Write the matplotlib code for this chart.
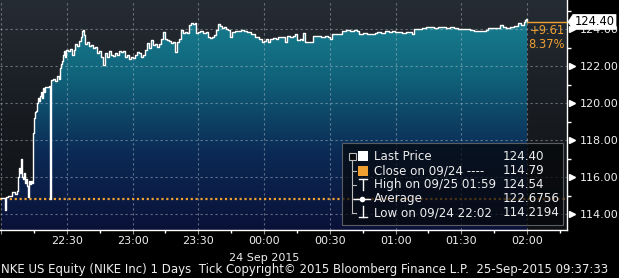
import matplotlib
matplotlib.use("Agg")
import matplotlib.pyplot as plt
import numpy as np
from matplotlib.colors import LinearSegmentedColormap
from matplotlib.patches import Rectangle, Polygon
from matplotlib.lines import Line2D
import matplotlib.transforms as mtransforms

# ---------------- data ----------------
# minutes after 22:00 (24 Sep 2015)
minutes = [0, 0.5, 2.0, 2.3, 3.2, 4.6, 5.0, 6.4, 7.3, 7.8, 8.2, 8.7, 9.1, 9.6, 10.0, 10.5,
           10.9, 11.4, 11.9, 12.3, 12.8, 13.2, 13.7, 14.1, 14.6, 15.1, 15.5, 16.0, 16.4,
           16.9, 17.3, 17.8, 18.2, 18.7, 19.2, 19.6, 20.1, 21.0, 21.9, 22.4, 22.8, 23.7,
           24.6, 25.5, 26.5, 26.9, 27.4, 27.8, 28.3, 28.7, 29.2, 29.7, 30.6, 31.5, 32.4,
           33.3, 33.8, 34.7, 35.6, 36.5, 37.0, 37.4, 37.9, 38.3, 39.2, 40.1, 41.1, 42.0,
           42.9, 43.8, 44.7, 45.6, 46.5, 47.4, 48.4, 49.3, 50.2, 51.1, 52.0, 52.9, 53.8,
           54.7, 55.7, 56.6, 57.5, 58.4, 59.3, 60.2, 61.1, 62.0, 63.0, 63.9, 64.8, 65.7,
           66.6, 67.5, 68.4, 69.3, 70.3, 71.2, 72.1, 73.0, 73.9, 74.8, 75.7, 76.6, 77.6,
           78.5, 79.4, 80.3, 81.2, 82.1, 83.0, 83.9, 84.9, 85.8, 86.7, 87.6, 88.5, 89.0,
           89.9, 90.8, 92.2, 93.5, 94.4, 95.3, 96.3, 97.2, 98.1, 99.0, 99.9, 100.8, 101.7,
           102.6, 103.6, 104.5, 105.4, 106.7, 108.1, 109.5, 110.9, 112.2, 114.1, 115.9,
           117.7, 119.1, 120.0, 120.9, 121.8, 122.7, 124.1, 125.5, 126.4, 127.7, 129.1,
           129.6, 130.5, 131.8, 133.2, 134.1, 135.0, 136.4, 137.3, 137.8, 138.7, 140.1,
           141.4, 142.3, 144.2, 146.0, 147.8, 149.2, 150.1, 151.0, 152.8, 154.7, 155.6,
           157.4, 159.2, 161.0, 162.4, 163.3, 165.1, 167.0, 168.8, 170.6, 171.5, 173.4,
           175.2, 177.0, 178.4, 179.7, 181.1, 182.9, 184.8, 186.6, 187.5, 188.4, 190.2,
           192.1, 193.9, 195.7, 197.5, 199.4, 201.2, 203.0, 204.8, 206.7, 208.5, 210.3,
           212.1, 214.0, 215.8, 217.6, 219.4, 221.3, 222.2, 224.0, 225.8, 227.6, 229.0,
           230.4, 232.2, 234.0, 235.9, 237.2, 238.6, 239.1, 239.5, 240.0]
prices = [114.87, 114.85, 114.22, 114.90, 115.00, 114.95, 115.20, 115.10, 115.25, 116.00,
          116.50, 116.20, 116.97, 116.00, 115.90, 116.20, 115.70, 115.90, 115.50, 114.90,
          115.80, 115.60, 115.80, 115.70, 118.40, 119.20, 119.50, 119.60, 120.00, 120.30,
          120.10, 120.40, 120.60, 120.30, 120.80, 120.60, 120.90, 120.85, 120.95, 114.80,
          121.25, 121.30, 121.20, 121.45, 121.30, 121.90, 122.10, 122.30, 122.60, 122.80,
          122.50, 122.90, 122.85, 122.95, 122.60, 122.90, 123.20, 123.10, 123.35, 123.60,
          123.90, 123.95, 123.70, 123.20, 123.30, 123.10, 123.15, 123.00, 123.05, 122.70,
          122.80, 122.50, 122.06, 122.70, 122.50, 122.80, 122.60, 122.55, 122.70, 122.60,
          122.85, 122.75, 122.85, 122.50, 122.60, 122.40, 122.50, 122.45, 122.60, 122.76,
          122.70, 122.49, 122.60, 122.90, 123.25, 123.00, 123.40, 123.15, 123.20, 123.05,
          123.20, 123.45, 123.84, 123.50, 123.40, 123.35, 123.25, 123.30, 122.76, 123.30,
          123.50, 123.95, 123.80, 123.85, 123.79, 124.22, 124.33, 124.30, 124.35, 123.80,
          123.84, 123.90, 123.80, 123.85, 123.60, 123.55, 123.60, 123.70, 123.95, 124.27,
          124.20, 124.05, 124.10, 124.00, 123.95, 123.57, 123.85, 123.90, 123.93, 123.95,
          123.92, 123.88, 123.75, 123.60, 123.45, 123.30, 123.35, 123.50, 123.30, 123.50,
          123.55, 123.50, 123.57, 123.60, 123.58, 123.30, 123.62, 123.60, 123.65, 123.77,
          123.40, 123.45, 123.40, 123.80, 123.30, 123.32, 123.30, 123.62, 123.65, 123.60,
          123.62, 123.60, 123.50, 123.72, 123.75, 123.72, 123.90, 123.95, 123.93, 123.95,
          123.90, 123.77, 123.80, 123.77, 123.75, 123.80, 123.85, 123.82, 123.90, 123.85,
          123.90, 123.85, 123.84, 123.80, 123.85, 123.84, 123.73, 124.00, 124.02, 124.05,
          124.10, 124.12, 124.08, 124.12, 124.10, 124.07, 124.10, 124.05, 124.02, 124.00,
          124.00, 123.98, 123.92, 123.90, 123.93, 123.95, 124.05, 124.06, 124.05, 124.22,
          124.10, 124.08, 124.15, 124.16, 124.33, 124.25, 124.40, 124.49, 124.54, 124.40]

last_price = 124.40
prev_close = 114.79
change_txt = "+9.61"
change_pct_txt = "8.37%"

major_ticks = [0, 30, 60, 90, 120, 150, 180, 210, 240]
major_labels = ["", "22:30", "23:00", "23:30", "00:00", "00:30", "01:00", "01:30", "02:00"]
minor_ticks = [15, 45, 75, 105, 135, 165, 195, 225, 255]
date_label = "24 Sep 2015"
y_major = [114, 116, 118, 120, 122, 124]
y_minor = [115, 117, 119, 121, 123, 125]

legend_rows = [
    ("Last Price", "124.40"),
    ("Close on 09/24 ----", "114.79"),
    ("High on 09/25 01:59", "124.54"),
    ("Average", "122.6756"),
    ("Low on 09/24 22:02", "114.2194"),
]
footer = "NKE US Equity (NIKE Inc) 1 Days  Tick Copyright\u00a9 2015 Bloomberg Finance L.P.  25-Sep-2015 09:37:33"

# ---------------- figure ----------------
W, H = 619, 278
fig = plt.figure(figsize=(W / 100, H / 100), dpi=100, facecolor="black")
ax = fig.add_axes([0, (H - 230) / H, 567 / W, 230 / H])
XMIN, XMAX = -0.46, 258.2
YMIN, YMAX = 113.134, 125.586
ax.set_xlim(XMIN, XMAX)
ax.set_ylim(YMIN, YMAX)

orange = "#f0a030"
txtc = "#eeeeee"

# background gradient
bg = LinearSegmentedColormap.from_list("bg", ["#0d0f12", "#181c21", "#262c34"])
grad = np.linspace(0, 1, 256).reshape(-1, 1)
ax.imshow(grad, extent=[XMIN, XMAX, YMIN, YMAX], origin="lower", aspect="auto",
          cmap=bg, zorder=0)

# filled area with gradient
t = np.array(minutes)
p = np.array(prices)
fillcm = LinearSegmentedColormap.from_list("fill", ["#0a1138", "#0b2a55", "#10627a", "#1a8796"])
poly = ax.fill_between(t, p, YMIN, step="post", facecolor="none", edgecolor="none", zorder=1)
im = ax.imshow(grad, extent=[XMIN, XMAX, YMIN, YMAX], origin="lower", aspect="auto",
               cmap=fillcm, zorder=1)
im.set_clip_path(poly.get_paths()[0], transform=ax.transData)

# grid
for xv in major_ticks:
    ax.axvline(xv, color="#c8d0d8", alpha=0.45, lw=0.8, ls=(0, (2, 2.5)), zorder=2)
for yv in y_major:
    ax.axhline(yv, color="#c8d0d8", alpha=0.45, lw=0.8, ls=(0, (2, 2.5)), zorder=2)

# price line
ax.plot(t, p, drawstyle="steps-post", color="white", lw=1.0, zorder=4)
# previous close dotted line
ax.axhline(prev_close, color=orange, lw=1.6, ls=(0, (1, 1.2)), zorder=3)
# last price line to axis
ax.plot([t[-1], XMAX], [last_price, last_price], color=orange, lw=1.0, zorder=4)

# axes styling
for s in ["top", "left"]:
    ax.spines[s].set_visible(False)
for s in ["right", "bottom"]:
    ax.spines[s].set_color("white")
    ax.spines[s].set_linewidth(1.0)
ax.yaxis.tick_right()
ax.set_yticks(y_major)
ax.set_yticklabels([f"{v:.2f}" for v in y_major])
ax.set_yticks(y_minor, minor=True)
ax.tick_params(axis="y", which="major", length=0, pad=9, labelsize=8, labelcolor=txtc)
ax.tick_params(axis="y", which="minor", length=3, width=1, color="white", direction="out")
ax.set_xticks(major_ticks)
ax.set_xticklabels(major_labels)
ax.set_xticks(minor_ticks, minor=True)
ax.tick_params(axis="x", which="major", length=3, width=0.8, color="#999999", pad=1,
               labelsize=8, labelcolor=txtc)
ax.tick_params(axis="x", which="minor", length=2.5, width=1, color="white", direction="out")

# triangles for y labels
trans = mtransforms.blended_transform_factory(ax.transAxes, ax.transData)
ax.plot([1.0085] * len(y_major), y_major, ls="none", marker=">", ms=4.5, color="white",
        transform=trans, clip_on=False, zorder=5)

# date label
ax.annotate(date_label, xy=(120, 0), xycoords=("data", "axes fraction"),
            xytext=(0, -20), textcoords="offset points", ha="center", va="center",
            fontsize=8, color=txtc, annotation_clip=False)

# change text
ax.text(0.996, 1 - 30 / 230, change_txt, transform=ax.transAxes, ha="right", va="center",
        fontsize=8.3, color=orange, zorder=6)
ax.text(0.996, 1 - 44 / 230, change_pct_txt, transform=ax.transAxes, ha="right", va="center",
        fontsize=8.3, color=orange, zorder=6)


def P(x, y):
    return (x / W, 1 - y / H)


# last price tag (arrow-shaped white label)
tag_y = ax.transData.transform((0, last_price))[1]
tag_ypx = H - tag_y
tag = Polygon([P(568, tag_ypx), P(573, tag_ypx - 7.5), P(616, tag_ypx - 7.5),
               P(616, tag_ypx + 7.5), P(573, tag_ypx + 7.5)], closed=True,
              transform=fig.transFigure, fc="white", ec="white", lw=0.5, zorder=30)
fig.patches.append(tag)
fig.text(575 / W, 1 - tag_ypx / H, f"{last_price:.2f}", ha="left", va="center",
         fontsize=8.3, color="black", zorder=31)

# legend box
x0, y0, x1, y1 = 342, 143, 563, 225
fig.patches.append(Rectangle(P(x0, y1), (x1 - x0) / W, (y1 - y0) / H, transform=fig.transFigure,
                             fc="#06080b", alpha=0.72, ec="none", zorder=20))
fig.patches.append(Rectangle(P(x0, y1), (x1 - x0) / W, (y1 - y0) / H, transform=fig.transFigure,
                             fc="none", ec="#5a5e63", lw=0.8, zorder=21))
row_y = [156, 170.5, 184.5, 198.5, 212.5]
lc = "#bbbbbb"


def L(xs, ys, **kw):
    fig.add_artist(Line2D([x / W for x in xs], [1 - y / H for y in ys], transform=fig.transFigure,
                          zorder=22, **kw))


L([352, 352], [159.5, 213], color=lc, lw=0.8)
for ry in row_y[1:]:
    L([352, 356], [ry, ry], color=lc, lw=0.8)
fig.patches.append(Rectangle(P(349, 159.5), 7 / W, 7 / H, transform=fig.transFigure,
                             fc="#06080b", ec=lc, lw=0.8, zorder=23))
L([350.5, 354.5], [156, 156], color=lc, lw=0.8)
fig.patches.append(Rectangle(P(358, 161), 10 / W, 10 / H, transform=fig.transFigure,
                             fc="white", ec="none", zorder=23))
fig.patches.append(Rectangle(P(358, 175.5), 10 / W, 10 / H, transform=fig.transFigure,
                             fc=orange, ec="none", zorder=23))
L([358.5, 366.5], [179, 179], color="white", lw=1)
L([362.5, 362.5], [179, 190], color="white", lw=1)
L([354, 370], [198.5, 198.5], color="white", lw=1)
fig.add_artist(Line2D([362 / W], [1 - 198.5 / H], marker="o", ms=3, color="white",
                      transform=fig.transFigure, zorder=23))
L([362.5, 362.5], [206, 217], color="white", lw=1)
L([358.5, 366.5], [217, 217], color="white", lw=1)

for (lab, val), ry in zip(legend_rows, row_y):
    fig.text(374 / W, 1 - ry / H, lab, ha="left", va="center", fontsize=8.6, color=txtc, zorder=24)
    fig.text(503 / W, 1 - ry / H, val, ha="left", va="center", fontsize=8.6, color=txtc, zorder=24)

# footer
fig.text(1 / W, 1 - 270 / H, footer, ha="left", va="center", fontsize=8.5, color=txtc)

fig.savefig("out.png", dpi=100, facecolor="black")
